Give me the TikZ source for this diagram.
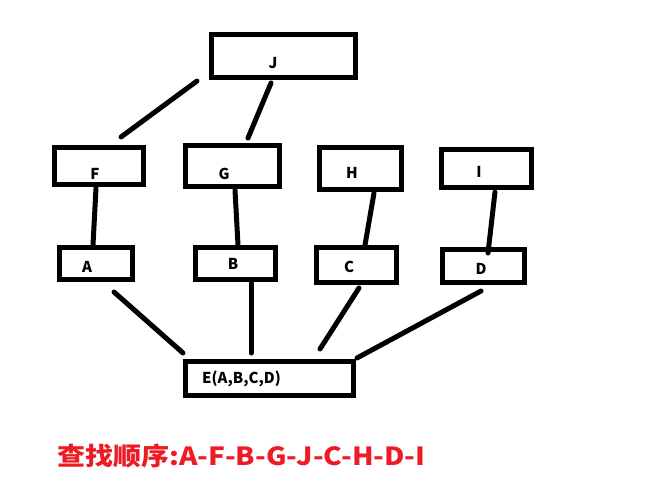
\documentclass[tikz,border=0pt]{standalone}
\usepackage{fontspec}
\setmainfont{Noto Sans CJK SC}
\definecolor{paintred}{RGB}{237,28,36}

\begin{document}
\begin{tikzpicture}[x=1pt,y=-1pt,
    box/.style={draw,line width=5pt,inner sep=0pt},
    link/.style={line width=5pt,line cap=round},
    tag/.style={font=\fontsize{15}{17}\selectfont\bfseries,inner sep=0pt}]
                \useasboundingbox (0,0) rectangle (669,487);
                % top
                \node[box,minimum width=144pt,minimum height=43pt,label={[tag,xshift=-10.5pt,yshift=-7pt]center:J}] (J) at (283.5,56) {};
                % middle row
                \node[box,minimum width=89pt,minimum height=37pt,label={[tag,xshift=-4pt,yshift=-8pt]center:F}] (F) at (99,166) {};
                \node[box,minimum width=94pt,minimum height=41pt,label={[tag,xshift=-8.5pt,yshift=-8pt]center:G}] (G) at (232.5,166) {};
                \node[box,minimum width=82pt,minimum height=42pt,label={[tag,xshift=-8.5pt,yshift=-4.5pt]center:H}] (H) at (360.5,168.5) {};
                \node[box,minimum width=90pt,minimum height=38pt,label={[tag,xshift=-7.5pt,yshift=-3.5pt]center:I}] (I) at (486.5,168.5) {};
                % lower row
                \node[box,minimum width=73pt,minimum height=32pt,label={[tag,xshift=-9pt,yshift=-3.5pt]center:A}] (A) at (96,263.5) {};
                \node[box,minimum width=80pt,minimum height=32pt,label={[tag,xshift=-2.5pt,yshift=-0.5pt]center:B}] (B) at (235.5,263.5) {};
                \node[box,minimum width=80pt,minimum height=35pt,label={[tag,xshift=-7.5pt,yshift=-2pt]center:C}] (C) at (356.5,265) {};
                \node[box,minimum width=82pt,minimum height=33pt,label={[tag,xshift=-2.5pt,yshift=-3pt]center:D}] (D) at (483.5,266) {};
                % bottom
                \node[box,minimum width=168pt,minimum height=34pt,label={[tag,xshift=-28pt,yshift=-0.5pt]center:E(A,B,C,D)}] (E) at (269.5,378.5) {};
                % links
                \draw[link] ([shift={(-86.5,25)}]J.center) -- ([shift={(22,-29)}]F.center);
                \draw[link] ([shift={(-12.5,27)}]J.center) -- ([shift={(15.5,-28)}]G.center);
                \draw[link] ([shift={(-3,22)}]F.center) -- ([shift={(-3,-18.5)}]A.center);
                \draw[link] ([shift={(2.5,24)}]G.center) -- ([shift={(2.5,-18.5)}]B.center);
                \draw[link] ([shift={(13.5,24.5)}]H.center) -- ([shift={(8.5,-20)}]C.center);
                \draw[link] ([shift={(8.5,23.5)}]I.center) -- ([shift={(4.5,-13)}]D.center);
                \draw[link] ([shift={(18,28.5)}]A.center) -- ([shift={(-86.5,-25.5)}]E.center);
                \draw[link] ([shift={(15.5,19.5)}]B.center) -- ([shift={(-18.5,-25.5)}]E.center);
                \draw[link] ([shift={(2.5,23)}]C.center) -- ([shift={(50.5,-29.5)}]E.center);
                \draw[link] ([shift={(-2.5,25)}]D.center) -- ([shift={(87.5,-20.5)}]E.center);
                % search order
                \node[anchor=west,text=paintred,inner sep=0pt,font=\fontsize{25}{29}\selectfont\bfseries] (order) at (57,456) {\scalebox{1.12}[1]{查找顺序:A-F-B-G-J-C-H-D-I}};
\end{tikzpicture}
\end{document}
